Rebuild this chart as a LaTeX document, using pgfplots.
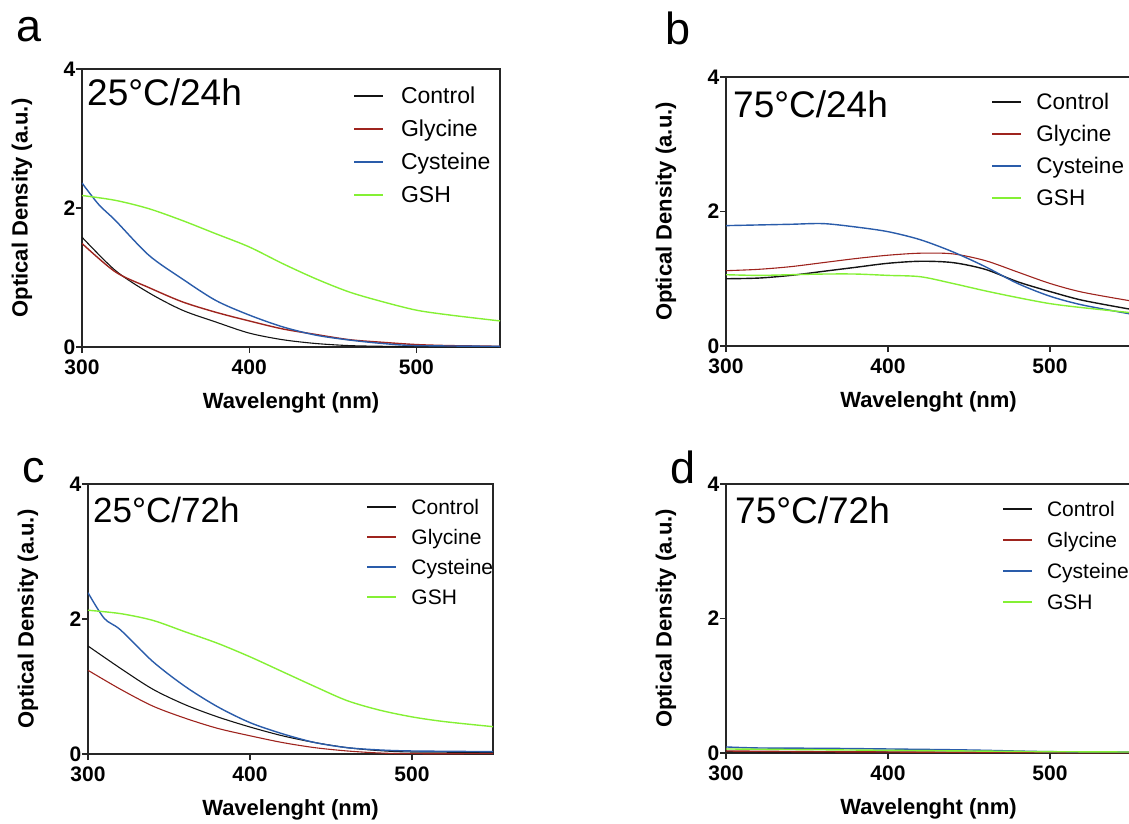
\documentclass[border=0pt]{standalone}
\usepackage{fontspec}
\setmainfont{Liberation Sans}
\usepackage{pgfplots}
\pgfplotsset{compat=1.18}

\definecolor{cctrl}{RGB}{20,20,20}
\definecolor{cgly}{RGB}{158,36,30}
\definecolor{ccys}{RGB}{42,92,170}
\definecolor{cgsh}{RGB}{132,240,52}

\pgfplotsset{
  od/.style={
    scale only axis,
    xmin=300, xmax=550, ymin=0, ymax=4,
    xtick={300,400,500}, ytick={0,2,4},
    tick align=outside, xtick pos=bottom, ytick pos=left,
    major tick length=6pt,
    axis line style={line width=1.4pt, black!85},
    every tick/.style={line width=1.4pt, black!85},
    /pgf/number format/assume math mode=true,
    tick label style={font=\fontsize{21}{21}\selectfont\bfseries, inner sep=1pt},
    xticklabel style={yshift=-6pt},
    yticklabel style={xshift=0.5pt},
    xlabel={Wavelenght (nm)},
    ylabel={Optical Density (a.u.)},
    label style={font=\fontsize{22}{22}\selectfont\bfseries},
    xlabel style={at={([yshift=-56pt]axis description cs:0.5,0)}, anchor=center},
    ylabel style={at={([xshift=-60pt]axis description cs:0,0.5)}, anchor=center},
    legend image code/.code={\draw[#1, line width=2pt] (0pt,1pt) -- (29pt,1pt);},
    legend cell align=left,
    every axis plot/.append style={line width=1.4pt, smooth},
  },
  legfont/.style={legend style={
    draw=none, fill=none, anchor=north west, inner sep=0pt,
    font=\fontsize{#1}{#1}\selectfont,
    nodes={inner sep=2pt, text height=18pt, text depth=5pt},
    row sep=6pt,
    /tikz/every odd column/.append style={column sep=12pt}}},
}

\begin{document}
\begin{tikzpicture}[x=1pt,y=1pt]
\useasboundingbox (0,0) rectangle (1129,823);

\node[anchor=base west, inner sep=0, font=\fontsize{45}{45}\selectfont] at (16,781) {a};
\node[anchor=base west, inner sep=0, font=\fontsize{45}{45}\selectfont] at (665,778) {b};
\node[anchor=base west, inner sep=0, font=\fontsize{45}{45}\selectfont] at (22,341) {c};
\node[anchor=base west, inner sep=0, font=\fontsize{45}{45}\selectfont] at (670,340) {d};

% a: 25C / 24h
\begin{axis}[od, at={(82pt,476pt)}, anchor=south west, width=418pt, height=278pt,
  legfont=23, legend style={at={(axis description cs:0.648,0.950)},
  /tikz/every odd column/.append style={column sep=15pt}}]
\addplot[cctrl, line width=1.1pt] coordinates {(300,1.58) (320,1.10) (340,0.78) (360,0.53) (380,0.36) (400,0.20) (420,0.105) (440,0.05) (460,0.02) (480,0.01) (500,0.005) (550,0.003)};
\addplot[cgly] coordinates {(300,1.49) (320,1.08) (340,0.855) (360,0.65) (380,0.50) (400,0.375) (420,0.26) (440,0.18) (460,0.105) (480,0.067) (500,0.035) (520,0.02) (550,0.01)};
\addplot[ccys] coordinates {(300,2.36) (310,2.05) (320,1.82) (340,1.32) (360,0.98) (380,0.67) (400,0.46) (420,0.29) (440,0.17) (460,0.10) (480,0.05) (500,0.02) (550,0.01)};
\addplot[cgsh] coordinates {(300,2.18) (320,2.11) (340,1.99) (360,1.82) (380,1.63) (400,1.44) (420,1.20) (440,0.98) (460,0.79) (480,0.65) (500,0.53) (520,0.46) (550,0.375)};
\legend{Control,Glycine,Cysteine,GSH}
\node[anchor=base west, inner sep=0, font=\fontsize{37}{37}\selectfont] at ([xshift=5pt,yshift=-36pt]rel axis cs:0,1) {25°C/24h};
\end{axis}

% b: 75C / 24h
\begin{axis}[od, at={(726pt,477pt)}, anchor=south west, width=405pt, height=269pt,
  legfont=22.5, legend style={at={(axis description cs:0.655,0.954)}, row sep=5pt}]
\addplot[cctrl] coordinates {(300,1.00) (320,1.01) (340,1.05) (360,1.11) (380,1.17) (400,1.23) (420,1.26) (440,1.24) (460,1.14) (480,0.955) (500,0.81) (520,0.68) (550,0.545)};
\addplot[cgly, line width=1.1pt] coordinates {(300,1.12) (320,1.14) (340,1.18) (360,1.24) (380,1.30) (400,1.35) (420,1.38) (440,1.37) (460,1.27) (480,1.10) (500,0.93) (520,0.80) (550,0.67)};
\addplot[ccys] coordinates {(300,1.79) (320,1.80) (340,1.81) (360,1.82) (380,1.77) (400,1.70) (420,1.58) (440,1.40) (460,1.18) (480,0.93) (500,0.74) (520,0.61) (550,0.475)};
\addplot[cgsh] coordinates {(300,1.06) (320,1.05) (340,1.06) (360,1.07) (380,1.07) (400,1.05) (420,1.03) (440,0.93) (460,0.82) (480,0.72) (500,0.63) (520,0.57) (550,0.495)};
\legend{Control,Glycine,Cysteine,GSH}
\node[anchor=base west, inner sep=0, font=\fontsize{37}{37}\selectfont] at ([xshift=7pt,yshift=-40pt]rel axis cs:0,1) {75°C/24h};
\end{axis}

% c: 25C / 72h
\begin{axis}[od, at={(88pt,69pt)}, anchor=south west, width=405pt, height=270pt,
  legfont=21, legend style={at={(axis description cs:0.687,0.963)}, row sep=3pt}]
\addplot[cctrl, line width=1.1pt] coordinates {(300,1.60) (320,1.27) (340,0.96) (360,0.73) (380,0.55) (400,0.40) (420,0.27) (440,0.17) (460,0.094) (480,0.05) (500,0.03) (550,0.025)};
\addplot[cgly, line width=1.1pt] coordinates {(300,1.24) (320,0.96) (340,0.71) (360,0.53) (380,0.38) (400,0.27) (420,0.17) (440,0.094) (460,0.045) (480,0.015) (500,0.005) (550,0.005)};
\addplot[ccys] coordinates {(300,2.39) (310,2.01) (320,1.84) (340,1.37) (360,1.00) (380,0.70) (400,0.465) (420,0.30) (440,0.17) (460,0.094) (480,0.06) (500,0.045) (550,0.035)};
\addplot[cgsh] coordinates {(300,2.13) (320,2.08) (340,1.98) (360,1.81) (380,1.64) (400,1.44) (420,1.22) (440,1.00) (460,0.79) (480,0.65) (500,0.55) (520,0.48) (550,0.405)};
\legend{Control,Glycine,Cysteine,GSH}
\node[anchor=base west, inner sep=0, font=\fontsize{35}{35}\selectfont] at ([xshift=5pt,yshift=-38pt]rel axis cs:0,1) {25°C/72h};
\end{axis}

% d: 75C / 72h
\begin{axis}[od, at={(726pt,70pt)}, anchor=south west, width=405pt, height=269pt,
  legfont=21, legend style={at={(axis description cs:0.681,0.956)}, row sep=4pt}]
\addplot[cctrl] coordinates {(300,0.02) (350,0.015) (400,0.012) (450,0.01) (500,0.008) (550,0.006)};
\addplot[cgly] coordinates {(300,0.03) (350,0.02) (400,0.015) (450,0.01) (500,0.007) (550,0.005)};
\addplot[ccys] coordinates {(300,0.09) (320,0.075) (360,0.07) (400,0.06) (450,0.045) (500,0.02) (550,0.015)};
\addplot[cgsh] coordinates {(300,0.06) (350,0.05) (400,0.04) (450,0.03) (500,0.02) (550,0.015)};
\legend{Control,Glycine,Cysteine,GSH}
\node[anchor=base west, inner sep=0, font=\fontsize{37}{37}\selectfont] at ([xshift=9pt,yshift=-39pt]rel axis cs:0,1) {75°C/72h};
\end{axis}
\end{tikzpicture}
\end{document}
